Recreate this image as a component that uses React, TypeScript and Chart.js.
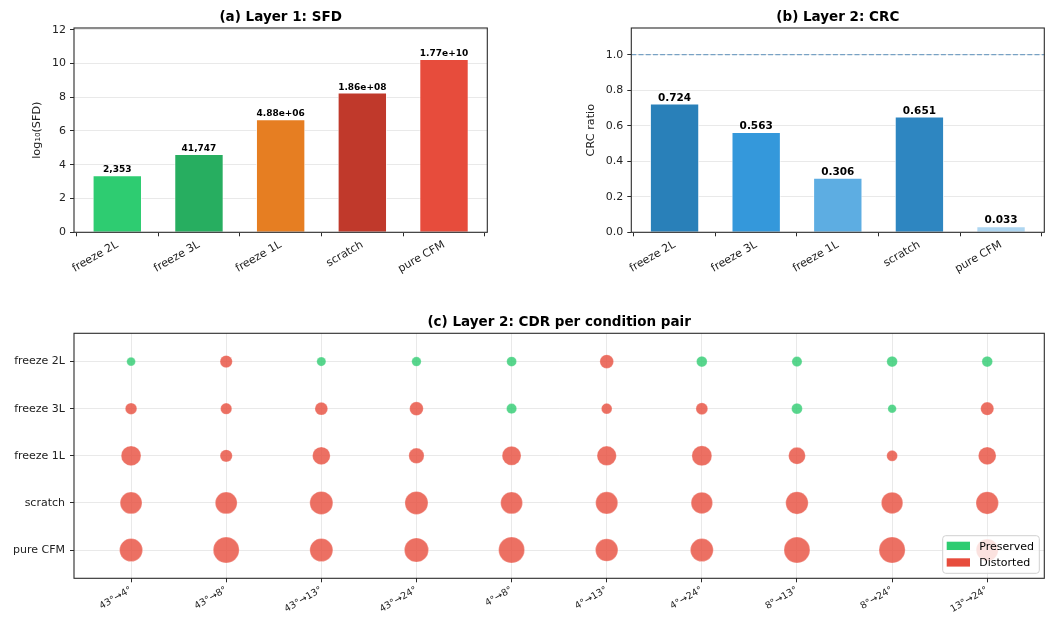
import React, { useEffect, useRef } from 'react';
import { Chart, registerables } from 'chart.js';

Chart.register(...registerables);

const FONT = "'DejaVu Sans', 'Liberation Sans', sans-serif";
Chart.defaults.font.family = FONT;

// ---------- data ----------
const conditions = ['freeze 2L', 'freeze 3L', 'freeze 1L', 'scratch', 'pure CFM'];

const sfdValues = [2353, 41747, 4.88e6, 1.86e8, 1.77e10];
const sfdLabels = ['2,353', '41,747', '4.88e+06', '1.86e+08', '1.77e+10'];
const sfdColors = ['#2ecc71', '#27ae60', '#e67e22', '#c0392b', '#e74c3c'];

const crcValues = [0.724, 0.563, 0.306, 0.651, 0.033];
const crcLabels = ['0.724', '0.563', '0.306', '0.651', '0.033'];
const crcColors = ['#2980b9', '#3498db', '#5dade2', '#2e86c1', '#aed6f1'];
const crcReference = 1.0;

const pairs = ['43°→4°', '43°→8°', '43°→13°', '43°→24°', '4°→8°', '4°→13°', '4°→24°', '8°→13°', '8°→24°', '13°→24°'];

// CDR per condition (rows) and condition pair (columns)
const cdrFreeze2L = [0.23, 0.45, 0.25, 0.27, 0.29, 0.56, 0.34, 0.31, 0.34, 0.34];
const cdrFreeze3L = [0.40, 0.38, 0.49, 0.56, 0.31, 0.34, 0.42, 0.35, 0.22, 0.52];
const cdrFreeze1L = [1.17, 0.45, 0.94, 0.70, 1.07, 1.12, 1.19, 0.85, 0.35, 0.94];
const cdrScratch = [1.42, 1.42, 1.58, 1.58, 1.42, 1.45, 1.37, 1.50, 1.37, 1.50];
const cdrPureCFM = [1.58, 2.00, 1.58, 1.73, 2.00, 1.50, 1.56, 2.00, 2.03, 1.45];
const cdrRows = [cdrFreeze2L, cdrFreeze3L, cdrFreeze1L, cdrScratch, cdrPureCFM];

// 1 = preserved, 0 = distorted
const presFreeze2L = [1, 0, 1, 1, 1, 0, 1, 1, 1, 1];
const presFreeze3L = [0, 0, 0, 0, 1, 0, 0, 1, 1, 0];
const presFreeze1L = [0, 0, 0, 0, 0, 0, 0, 0, 0, 0];
const presScratch = [0, 0, 0, 0, 0, 0, 0, 0, 0, 0];
const presPureCFM = [0, 0, 0, 0, 0, 0, 0, 0, 0, 0];
const preservedRows = [presFreeze2L, presFreeze3L, presFreeze1L, presScratch, presPureCFM];

// ---------- styling helpers ----------
const TICK_COLOR = '#222222';
const GRID_COLOR = '#e9e9e9';
const SPINE_COLOR = '#2b2b2b';

const bubbleRadius = (cdr: number) => Math.sqrt((cdr * 200) / Math.PI) * 1.15;

const framePlugin = {
  id: 'frame',
  afterDraw(chart: any) {
    const { ctx, chartArea: a } = chart;
    ctx.save();
    ctx.strokeStyle = SPINE_COLOR;
    ctx.lineWidth = 1.1;
    ctx.strokeRect(a.left, a.top, a.right - a.left, a.bottom - a.top);
    ctx.restore();
  },
};

const makeTitlePlugin = (text: string, baseline: number) => ({
  id: 'figTitle',
  afterDraw(chart: any) {
    const { ctx, chartArea: a } = chart;
    ctx.save();
    ctx.font = `bold 13.5px ${FONT}`;
    ctx.fillStyle = '#000';
    ctx.textAlign = 'center';
    ctx.textBaseline = 'alphabetic';
    ctx.fillText(text, (a.left + a.right) / 2, baseline);
    ctx.restore();
  },
});

const makeValueLabelPlugin = (labels: string[], size: number) => ({
  id: 'valueLabels',
  afterDatasetsDraw(chart: any) {
    const { ctx } = chart;
    const meta = chart.getDatasetMeta(0);
    ctx.save();
    ctx.font = `bold ${size}px ${FONT}`;
    ctx.fillStyle = '#000';
    ctx.textAlign = 'center';
    ctx.textBaseline = 'alphabetic';
    meta.data.forEach((el: any, i: number) => {
      ctx.fillText(labels[i], el.x, el.y - 3);
    });
    ctx.restore();
  },
});

const refLinePlugin = {
  id: 'refLine',
  beforeDatasetsDraw(chart: any) {
    const { ctx, chartArea: a, scales } = chart;
    const y = scales.y.getPixelForValue(crcReference);
    ctx.save();
    ctx.strokeStyle = 'rgba(70,130,180,0.7)';
    ctx.lineWidth = 1.2;
    ctx.setLineDash([5, 2.2]);
    ctx.beginPath();
    ctx.moveTo(a.left, y);
    ctx.lineTo(a.right, y);
    ctx.stroke();
    ctx.restore();
  },
};

const legendPlugin = {
  id: 'innerLegend',
  afterDraw(chart: any) {
    const { ctx, chartArea: a } = chart;
    const w = 96.6;
    const h = 37.6;
    const x0 = a.right - 5 - w;
    const y0 = a.bottom - 5 - h;
    ctx.save();
    ctx.beginPath();
    const r = 3;
    ctx.moveTo(x0 + r, y0);
    ctx.lineTo(x0 + w - r, y0);
    ctx.quadraticCurveTo(x0 + w, y0, x0 + w, y0 + r);
    ctx.lineTo(x0 + w, y0 + h - r);
    ctx.quadraticCurveTo(x0 + w, y0 + h, x0 + w - r, y0 + h);
    ctx.lineTo(x0 + r, y0 + h);
    ctx.quadraticCurveTo(x0, y0 + h, x0, y0 + h - r);
    ctx.lineTo(x0, y0 + r);
    ctx.quadraticCurveTo(x0, y0, x0 + r, y0);
    ctx.closePath();
    ctx.fillStyle = 'rgba(255,255,255,0.8)';
    ctx.fill();
    ctx.strokeStyle = '#d0d0d0';
    ctx.lineWidth = 1;
    ctx.stroke();
    const items = [
      { label: 'Preserved', color: '#2ecc71' },
      { label: 'Distorted', color: '#e74c3c' },
    ];
    ctx.font = `11px ${FONT}`;
    ctx.textAlign = 'left';
    ctx.textBaseline = 'alphabetic';
    items.forEach((it, i) => {
      const py = y0 + 6 + i * 16.6;
      ctx.fillStyle = it.color;
      ctx.fillRect(x0 + 4, py, 23.3, 8.3);
      ctx.fillStyle = '#000';
      ctx.fillText(it.label, x0 + 36.6, py + 8);
    });
    ctx.restore();
  },
};

const baseOptions = {
  responsive: false,
  animation: false,
  devicePixelRatio: 1,
  events: [],
  plugins: {
    legend: { display: false },
    tooltip: { enabled: false },
    title: { display: false },
  },
};

const zeroPad = (s: any) => {
  s.paddingLeft = 0;
  s.paddingRight = 0;
};

const barXScale = (height: number) => ({
  type: 'linear',
  min: -0.53,
  max: 4.53,
  offset: false,
  afterBuildTicks: (s: any) => { s.ticks = conditions.map((_, i) => ({ value: i })); },
  grid: { display: true, drawOnChartArea: false, drawTicks: true, tickLength: 4, tickColor: SPINE_COLOR },
  border: { display: false },
  ticks: {
    autoSkip: false,
    minRotation: 30,
    maxRotation: 30,
    padding: 2,
    color: TICK_COLOR,
    font: { size: 11 },
    callback: (v: any) => conditions[Math.round(Number(v))],
  },
  afterFit: (s: any) => { s.height = height; zeroPad(s); },
});

function buildSfd(canvas: HTMLCanvasElement) {
  return new Chart(canvas, {
    type: 'bar',
    data: {
      datasets: [
        {
          data: sfdValues.map((v, i) => ({ x: i, y: Math.log10(v) })),
          backgroundColor: sfdColors,
          borderColor: '#ffffff',
          borderWidth: 0.8,
          barPercentage: 0.6,
          categoryPercentage: 1,
        },
      ],
    },
    options: {
      ...baseOptions,
      layout: { autoPadding: false, padding: { left: 0, top: 28, right: 520 - 487.3, bottom: 0 } },
      scales: {
        x: barXScale(300 - 232.3),
        y: {
          min: 0,
          max: 12.1,
          ticks: { stepSize: 2, includeBounds: false, padding: 4, color: TICK_COLOR, font: { size: 11 } },
          grid: { color: GRID_COLOR, lineWidth: 1, tickLength: 4, tickColor: SPINE_COLOR },
          border: { display: false },
          title: { display: true, text: 'log₁₀(SFD)', color: TICK_COLOR, font: { size: 11.25 }, padding: { top: 30.25, bottom: 0 } },
          afterFit: (s: any) => { s.width = 74; },
        },
      },
    },
    plugins: [framePlugin, makeTitlePlugin('(a) Layer 1: SFD', 21), makeValueLabelPlugin(sfdLabels, 9)],
  } as any);
}

function buildCrc(canvas: HTMLCanvasElement) {
  return new Chart(canvas, {
    type: 'bar',
    data: {
      datasets: [
        {
          data: crcValues.map((v, i) => ({ x: i, y: v })),
          backgroundColor: crcColors,
          borderColor: '#ffffff',
          borderWidth: 0.8,
          barPercentage: 0.6,
          categoryPercentage: 1,
        },
      ],
    },
    options: {
      ...baseOptions,
      layout: { autoPadding: false, padding: { left: 0, top: 28, right: 532 - 524.3, bottom: 0 } },
      scales: {
        x: barXScale(300 - 232.3),
        y: {
          min: 0,
          max: 1.15,
          ticks: {
            stepSize: 0.2,
            includeBounds: false,
            padding: 4,
            color: TICK_COLOR,
            font: { size: 11 },
            callback: (v: any) => Number(v).toFixed(1),
          },
          grid: { color: GRID_COLOR, lineWidth: 1, tickLength: 4, tickColor: SPINE_COLOR },
          border: { display: false },
          title: { display: true, text: 'CRC ratio', color: TICK_COLOR, font: { size: 11.25 }, padding: { top: 64.1, bottom: 0 } },
          afterFit: (s: any) => { s.width = 111.3; },
        },
      },
    },
    plugins: [refLinePlugin, framePlugin, makeTitlePlugin('(b) Layer 2: CRC', 21), makeValueLabelPlugin(crcLabels, 10.5)],
  } as any);
}

function buildCdr(canvas: HTMLCanvasElement) {
  const distorted: any[] = [];
  const preserved: any[] = [];
  cdrRows.forEach((row, i) => {
    row.forEach((cdr, j) => {
      const pt = { x: j, y: i, r: bubbleRadius(cdr) };
      if (preservedRows[i][j]) preserved.push(pt);
      else distorted.push(pt);
    });
  });
  return new Chart(canvas, {
    type: 'bubble',
    data: {
      datasets: [
        {
          label: 'Preserved',
          data: preserved,
          backgroundColor: 'rgba(46,204,113,0.8)',
          borderColor: 'rgba(255,255,255,0.5)',
          borderWidth: 0.5,
        },
        {
          label: 'Distorted',
          data: distorted,
          backgroundColor: 'rgba(231,76,60,0.8)',
          borderColor: 'rgba(255,255,255,0.5)',
          borderWidth: 0.5,
        },
      ],
    },
    options: {
      ...baseOptions,
      layout: { autoPadding: false, padding: { left: 0, top: 33.3, right: 1052 - 1044.3, bottom: 0 } },
      scales: {
        x: {
          type: 'linear',
          min: -0.6,
          max: 9.6,
          afterBuildTicks: (s: any) => { s.ticks = pairs.map((_, i) => ({ value: i })); },
          ticks: {
            autoSkip: false,
            minRotation: 30,
            maxRotation: 30,
            padding: 2,
            color: TICK_COLOR,
            font: { size: 9.5 },
            callback: (v: any) => pairs[Math.round(Number(v))],
          },
          grid: { color: GRID_COLOR, lineWidth: 1, tickLength: 4, tickColor: SPINE_COLOR },
          border: { display: false },
          afterFit: (s: any) => { s.height = 319 - 278.3; zeroPad(s); },
        },
        y: {
          type: 'linear',
          reverse: true,
          min: -0.6,
          max: 4.6,
          afterBuildTicks: (s: any) => { s.ticks = conditions.map((_, i) => ({ value: i })); },
          ticks: {
            padding: 5,
            color: TICK_COLOR,
            font: { size: 11 },
            callback: (v: any) => conditions[Math.round(Number(v))],
          },
          grid: { color: GRID_COLOR, lineWidth: 1, tickLength: 4, tickColor: SPINE_COLOR },
          border: { display: false },
          afterFit: (s: any) => { s.width = 74; s.paddingTop = 0; s.paddingBottom = 0; },
        },
      },
    },
    plugins: [framePlugin, makeTitlePlugin('(c) Layer 2: CDR per condition pair', 26), legendPlugin],
  } as any);
}

export default function App() {
  const c1 = useRef<HTMLCanvasElement>(null);
  const c2 = useRef<HTMLCanvasElement>(null);
  const c3 = useRef<HTMLCanvasElement>(null);

  useEffect(() => {
    const charts = [buildSfd(c1.current!), buildCrc(c2.current!), buildCdr(c3.current!)];
    return () => charts.forEach((c) => c.destroy());
  }, []);

  return (
    <div style={{ position: 'absolute', left: 0, top: 0, width: 1052, height: 619, background: '#ffffff', overflow: 'hidden' }}>
      <canvas ref={c1} width={520} height={300} style={{ position: 'absolute', left: 0, top: 0, width: 520, height: 300 }} />
      <canvas ref={c2} width={532} height={300} style={{ position: 'absolute', left: 520, top: 0, width: 532, height: 300 }} />
      <canvas ref={c3} width={1052} height={319} style={{ position: 'absolute', left: 0, top: 300, width: 1052, height: 319 }} />
    </div>
  );
}
